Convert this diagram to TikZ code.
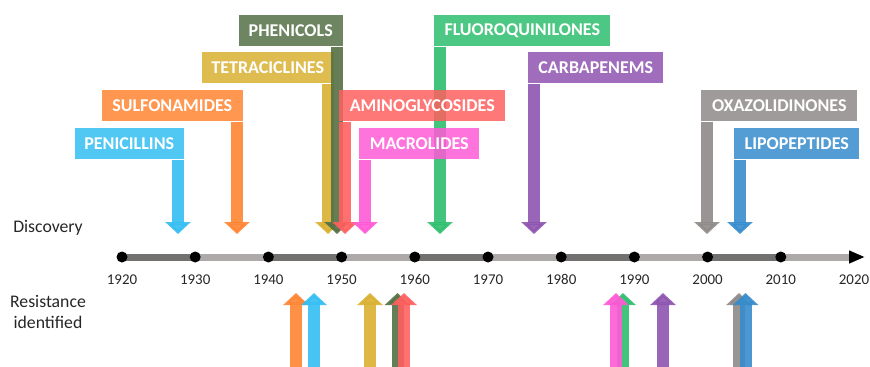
\documentclass[tikz,border=0pt]{standalone}
\usepackage{fontspec}
\setmainfont{Carlito}
\usepackage{xcolor}
\usepackage{tikz}
\usetikzlibrary{arrows.meta,positioning,calc}

\definecolor{pen}{RGB}{51,190,242}
\definecolor{sul}{RGB}{255,133,51}
\definecolor{tet}{RGB}{217,176,48}
\definecolor{phe}{RGB}{84,112,68}
\definecolor{ami}{RGB}{255,96,96}
\definecolor{mac}{RGB}{255,90,214}
\definecolor{flu}{RGB}{46,190,110}
\definecolor{car}{RGB}{142,84,176}
\definecolor{oxa}{RGB}{142,138,136}
\definecolor{lip}{RGB}{54,140,205}
\definecolor{axdark}{RGB}{115,112,112}
\definecolor{axlight}{RGB}{173,169,168}

\tikzset{
	classbox/.style={fill=#1, opacity=.85, text opacity=1, text=white, font=\bfseries\fontsize{13.5}{16}\selectfont, minimum height=23.25pt, inner sep=0pt},
	shaft/.style={draw=#1, opacity=.9, line width=9pt, -{Triangle[length=9pt,width=18.75pt]}},
	axisline/.style={draw=#1, line width=5.25pt},
	yeardot/.style={circle, fill=black, minimum size=8.25pt, inner sep=0pt},
	yearlbl/.style={font=\fontsize{11.2}{13}\selectfont, text=black!85},
	sidelbl/.style={font=\fontsize{13.3}{16.3}\selectfont, align=center, text=black!85}
}

\begin{document}
\begin{tikzpicture}[x=0.75pt, y=-0.75pt]
		\useasboundingbox (0,0) rectangle (870,367);

		% time axis
		\foreach \yr [count=\i from 0] in {1920,1930,...,2020}
			\coordinate (t\yr) at ({122+73.2*\i},257);
		\coordinate (tend) at (865,257);
		\foreach \a/\b/\c in {1920/1930/axdark, 1930/1940/axlight, 1940/1950/axdark, 1950/1960/axlight, 1960/1970/axdark, 1970/1980/axlight, 1980/1990/axdark, 1990/2000/axlight, 2000/2010/axdark}
			\draw[axisline=\c] (t\a) -- (t\b);
		\draw[axisline=axlight, -{Triangle[black,length=12pt,width=9pt]}] (t2010) -- (tend);
		\foreach \yr in {1920,1930,...,2010}
			\node[yeardot] (d\yr) at (t\yr) {};
		\foreach \yr in {1920,1930,...,2020}
			\node[yearlbl] (l\yr) at ([yshift=-17pt]t\yr) {\yr};

		\node[sidelbl] (disc) at (48,228) {Discovery};
		\node[sidelbl] (resist) at (48,312) {Resistance\\identified};

		% discovery
		\node[classbox=pen, minimum width=81.75pt, anchor=north east] (penb) at (184,128) {PENICILLINS};
		\coordinate (pen-d) at (178,234);
		\draw[shaft=pen] (penb.south -| pen-d) -- (pen-d);

		\node[classbox=sul, minimum width=105.75pt, anchor=north east] (sulb) at (243,90) {SULFONAMIDES};
		\coordinate (sul-d) at (237,234);
		\draw[shaft=sul] (sulb.south -| sul-d) -- (sul-d);

		\node[classbox=tet, minimum width=99pt, anchor=north east] (tetb) at (334,52) {TETRACICLINES};
		\coordinate (tet-d) at (328,234);
		\draw[shaft=tet] (tetb.south -| tet-d) -- (tet-d);

		\node[classbox=phe, minimum width=78pt, anchor=north east] (pheb) at (343,15) {PHENICOLS};
		\coordinate (phe-d) at (337,234);
		\draw[shaft=phe] (pheb.south -| phe-d) -- (phe-d);

		\node[classbox=flu, minimum width=132pt, anchor=north west] (flub) at (434,15) {FLUOROQUINILONES};
		\coordinate (flu-d) at (440,234);
		\draw[shaft=flu] (flub.south -| flu-d) -- (flu-d);

		\node[classbox=ami, minimum width=124.5pt, anchor=north west] (amib) at (339,90) {AMINOGLYCOSIDES};
		\coordinate (ami-d) at (345,234);
		\draw[shaft=ami] (amib.south -| ami-d) -- (ami-d);

		\node[classbox=mac, minimum width=90pt, anchor=north west] (macb) at (359,128) {MACROLIDES};
		\coordinate (mac-d) at (365,234);
		\draw[shaft=mac] (macb.south -| mac-d) -- (mac-d);

		\node[classbox=car, minimum width=101.25pt, anchor=north west] (carb) at (528,52) {CARBAPENEMS};
		\coordinate (car-d) at (534,234);
		\draw[shaft=car] (carb.south -| car-d) -- (car-d);

		\node[classbox=oxa, minimum width=117pt, anchor=north west] (oxab) at (701,90) {OXAZOLIDINONES};
		\coordinate (oxa-d) at (707,234);
		\draw[shaft=oxa] (oxab.south -| oxa-d) -- (oxa-d);

		\node[classbox=lip, minimum width=93.75pt, anchor=north west] (lipb) at (734,128) {LIPOPEPTIDES};
		\coordinate (lip-d) at (740,234);
		\draw[shaft=lip] (lipb.south -| lip-d) -- (lip-d);

		% resistance
		\foreach \n/\x in {sul/296, pen/314, tet/370, phe/397.5, ami/404, flu/623, mac/616, car/663, oxa/739, lip/745.5} {
			\coordinate (\n-b) at (\x,372);
			\coordinate (\n-r) at (\x,293);
			\draw[shaft=\n] (\n-b) -- (\n-r);
		}
	\end{tikzpicture}
\end{document}
